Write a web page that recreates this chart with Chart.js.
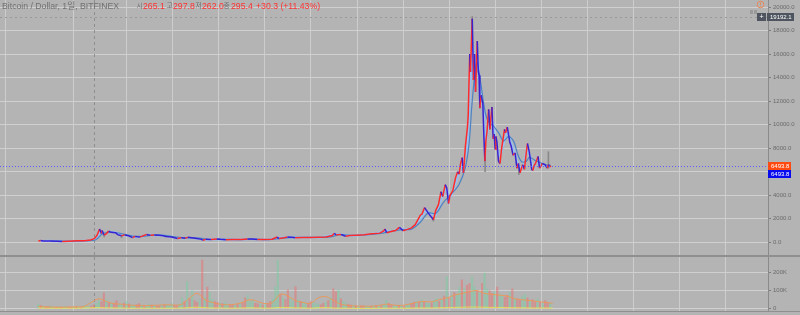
<!DOCTYPE html>
<html><head><meta charset="utf-8">
<script src="https://cdn.jsdelivr.net/npm/chart.js@4.4.0/dist/chart.umd.min.js"></script>
<style>
html,body{margin:0;padding:0;background:#b4b4b4;}
#wrap{position:relative;width:800px;height:315px;overflow:hidden;background:#b4b4b4;font-family:"Liberation Sans","Noto Sans CJK KR",sans-serif;}
#c1{position:absolute;left:0;top:0;}
#c2{position:absolute;left:0;top:257px;}
.sep{position:absolute;left:0;width:800px;background:#8f8f8f;}
#legend span{position:absolute;top:0;font-size:8.7px;line-height:12px;white-space:nowrap;}
#legend span.k{font-size:6.8px;}
</style></head>
<body><div id="wrap">
<canvas id="c1" width="800" height="255"></canvas>
<div class="sep" style="top:255px;height:2px"></div>
<canvas id="c2" width="800" height="54"></canvas>
<div class="sep" style="top:311px;height:1px"></div>
<div id="legend"></div>
</div>
<script>
// ---------- DATA ----------
const legendTitle = 'Bitcoin / Dollar, 1일, BITFINEX';
const ohlcLabels = ['시','고','저','종'];
const ohlcValues = ['265.1','297.8','262.0','295.4'];
const changeText = '+30.3 (+11.43%)';

const viewRange = ['2012-10-31','2021-03-04'];
const gridDates = ['2013-04-07','2014-01-01','2014-06-01','2015-01-01','2015-06-01','2016-01-01','2016-06-01','2017-01-01','2017-06-01','2018-01-01','2018-06-01','2019-01-01','2019-06-01','2020-01-01','2020-06-01','2021-01-01'];
const priceTicks = [0,2000,4000,6000,8000,10000,12000,14000,16000,18000,20000];
const volTicks = [0,100000,200000];
const crosshairDate = '2013-11-07';
const lastPrice = 6493.8;
const highPrice = 19192.1;

const closeSeries = [
['2013-04-01',100],['2013-04-10',160],['2013-04-20',120],['2013-05-15',115],['2013-06-15',100],['2013-07-05',75],['2013-08-01',100],['2013-09-01',130],['2013-10-01',130],['2013-10-25',190],['2013-11-10',330],['2013-11-20',600],['2013-11-30',1130],['2013-12-07',750],['2013-12-10',1000],['2013-12-18',600],['2013-12-25',700],
['2014-01-05',950],['2014-01-15',850],['2014-02-01',820],['2014-02-10',650],['2014-02-25',550],['2014-03-10',630],['2014-03-25',560],['2014-04-10',400],['2014-04-20',500],['2014-05-10',440],['2014-05-25',590],['2014-06-05',660],['2014-06-20',590],['2014-07-05',630],['2014-07-25',590],['2014-08-10',560],['2014-08-20',500],['2014-09-05',480],['2014-09-20',400],['2014-10-05',330],['2014-10-20',380],['2014-11-05',340],['2014-11-15',420],['2014-12-01',380],['2014-12-20',320],
['2015-01-05',270],['2015-01-14',180],['2015-01-25',260],['2015-02-15',240],['2015-03-10',290],['2015-03-25',250],['2015-04-15',225],['2015-05-15',240],['2015-06-15',245],['2015-07-10',290],['2015-07-30',285],['2015-08-18',230],['2015-09-15',230],['2015-10-15',260],['2015-11-04',450],['2015-11-12',320],['2015-12-01',380],['2015-12-15',450],
['2016-01-01',430],['2016-01-15',385],['2016-02-15',400],['2016-03-15',415],['2016-04-15',430],['2016-05-15',455],['2016-06-10',580],['2016-06-17',760],['2016-06-25',650],['2016-07-15',665],['2016-08-02',520],['2016-08-20',580],['2016-09-15',610],['2016-10-15',640],['2016-11-05',710],['2016-11-25',740],['2016-12-15',780],['2016-12-31',960],
['2017-01-05',1130],['2017-01-12',800],['2017-01-25',900],['2017-02-15',1000],['2017-03-03',1270],['2017-03-18',980],['2017-04-01',1080],['2017-04-20',1230],['2017-05-05',1500],['2017-05-25',2300],['2017-06-01',2400],['2017-06-11',2950],['2017-06-25',2500],['2017-07-16',1920],['2017-07-25',2700],['2017-08-05',3200],['2017-08-15',4300],['2017-08-22',3900],['2017-09-01',4900],['2017-09-07',4600],['2017-09-14',3300],['2017-09-20',4000],['2017-10-01',4400],['2017-10-12',5500],['2017-10-20',6000],['2017-10-26',5800],['2017-11-01',6700],['2017-11-07',7200],['2017-11-12',5900],['2017-11-20',8200],['2017-11-28',9800],['2017-12-01',10800],['2017-12-07',16000],['2017-12-10',14500],['2017-12-17',19000],['2017-12-22',13800],['2017-12-26',16000],['2017-12-30',12800],
['2018-01-06',17100],['2018-01-10',14500],['2018-01-13',14200],['2018-01-16',11400],['2018-01-21',12500],['2018-01-28',11800],['2018-02-01',9100],['2018-02-05',6900],['2018-02-09',8600],['2018-02-14',9500],['2018-02-20',11300],['2018-02-25',9600],['2018-03-05',11500],['2018-03-10',8800],['2018-03-14',9200],['2018-03-18',7900],['2018-03-21',9000],['2018-03-25',8500],['2018-03-31',6900],['2018-04-06',6700],['2018-04-12',7900],['2018-04-24',9600],['2018-04-28',9300],['2018-05-05',9800],['2018-05-15',8500],['2018-05-20',8200],['2018-05-28',7400],['2018-06-05',7600],['2018-06-12',6300],['2018-06-18',6700],['2018-06-24',5900],['2018-07-05',6600],['2018-07-12',6200],['2018-07-18',7400],['2018-07-24',8400],['2018-07-31',7700],['2018-08-10',6200],['2018-08-14',6100],['2018-08-19',6500],['2018-08-25',6700],['2018-09-04',7300],['2018-09-10',6300],['2018-09-16',6500],['2018-09-21',6700],['2018-10-01',6600],['2018-10-11',6300],['2018-10-15',6600],['2018-10-20',6400],['2018-10-25',6493.8]
];

const fastMaSeries = [
['2013-04-10',110],['2013-05-15',115],['2013-07-01',90],['2013-08-15',105],['2013-10-01',125],['2013-11-01',200],['2013-11-20',450],['2013-12-05',900],['2013-12-20',750],['2014-01-10',880],['2014-02-05',800],['2014-02-25',620],['2014-03-20',580],['2014-04-15',460],['2014-05-15',470],['2014-06-10',620],['2014-07-10',610],['2014-08-10',570],['2014-09-10',460],['2014-10-10',360],['2014-11-10',360],['2014-12-10',360],
['2015-01-10',260],['2015-01-30',230],['2015-03-01',255],['2015-04-10',240],['2015-06-01',235],['2015-07-20',280],['2015-08-25',240],['2015-10-01',240],['2015-11-08',370],['2015-12-10',420],['2016-01-10',420],['2016-03-01',410],['2016-05-01',445],['2016-06-20',680],['2016-07-20',660],['2016-08-15',560],['2016-10-01',610],['2016-11-15',720],['2016-12-25',880],
['2017-01-10',950],['2017-02-10',980],['2017-03-10',1150],['2017-04-01',1080],['2017-05-01',1350],['2017-05-28',2100],['2017-06-15',2650],['2017-07-10',2400],['2017-07-25',2300],['2017-08-15',3600],['2017-09-05',4500],['2017-09-20',3800],['2017-10-10',4900],['2017-10-25',5800],['2017-11-10',6800],['2017-11-25',7800],['2017-12-05',11000],['2017-12-12',15000],['2017-12-20',16500],['2017-12-30',14500],
['2018-01-08',15500],['2018-01-18',12800],['2018-01-30',11500],['2018-02-08',8500],['2018-02-20',10000],['2018-03-05',10500],['2018-03-20',8600],['2018-04-05',7400],['2018-04-20',8300],['2018-05-05',9300],['2018-05-20',8500],['2018-06-05',7500],['2018-06-20',6500],['2018-07-05',6400],['2018-07-22',7800],['2018-08-05',7200],['2018-08-15',6400],['2018-09-01',6900],['2018-09-15',6600],['2018-10-01',6550],['2018-10-25',6450]
];

const slowMaSeries = [
['2013-05-20',120],['2013-08-01',95],['2013-10-01',120],['2013-11-15',220],['2013-12-10',700],['2014-01-10',850],['2014-02-15',790],['2014-03-20',620],['2014-04-25',500],['2014-06-01',530],['2014-07-01',620],['2014-08-15',590],['2014-10-01',450],['2014-11-15',370],['2015-01-01',360],['2015-02-10',240],['2015-04-01',260],['2015-06-01',235],['2015-08-01',265],['2015-10-01',235],['2015-11-20',340],
['2016-01-10',420],['2016-04-01',415],['2016-06-01',460],['2016-07-10',650],['2016-09-01',590],['2016-11-01',640],['2016-12-20',760],['2017-01-25',920],['2017-03-15',1080],['2017-04-20',1120],['2017-05-25',1700],['2017-06-25',2500],['2017-07-25',2450],['2017-08-25',3400],['2017-09-25',4100],['2017-10-25',4900],['2017-11-20',6400],['2017-12-05',8500],['2017-12-15',11500],['2017-12-28',14500],
['2018-01-05',15300],['2018-01-20',13500],['2018-02-05',11200],['2018-02-20',10200],['2018-03-10',9900],['2018-04-01',9300],['2018-04-20',8600],['2018-05-10',9000],['2018-05-30',8600],['2018-06-15',7500],['2018-07-01',6850],['2018-07-20',6900],['2018-08-01',7250],['2018-08-20',7000],['2018-09-10',6800],['2018-10-01',6600],['2018-10-25',6550]
];

const wickSeries = [
['2013-12-18',450,780],['2014-02-25',380,600],['2017-07-16',1800,2100],['2017-12-17',17500,19192.1],['2018-02-06',6000,7800],['2018-06-20',5750,6500],['2018-10-15',6300,7700]
];

const volStart = '2013-04-01';
const volStepDays = 10;
const volumeK = [
25,18,12,10,9,14,8,7,10,9, 8,12,9,7,10,11,8,9,14,12, 10,15,22,30,45,38,87,50,
35,30,28,45,25,22,30,40,26,20, 18,22,28,20,15,18,24,20,16,14, 15,18,20,22,17,28,19,16,24,60, 40,150,55,100,45,35,50,
270,60,120,90,50,40,35,30,28,35, 25,22,20,18,24,30,35,60,75,40, 45,30,28,25,20,22,30,40,55,120, 270,80,60,50,104,55,40,
122,50,40,35,30,28,40,32,28,25, 22,30,35,45,60,110,95,105,55,40, 30,25,20,18,15,14,16,15,13,12, 12,14,18,20,16,22,
45,30,20,15,14,16,18,15,20,25, 30,35,40,38,50,35,30,28,32,45, 55,40,50,70,178,60,75,90,80,120, 160,110,130,140,178,120,100,
90,140,198,110,100,85,95,120,80,70, 65,75,90,110,60,55,50,70,80,60, 45,50,40,55,35,30,45,35,30
];
const volUpDown = 'grgrrggrgrggrrgrgrgggrrggrrg'+'rgrrggrgrggrrgrggrgrrgrgggrrggrgrgrrg'+'rgrggrrgrggrrgrgrrgggrrgrgrrgggrgrrgg'+'rgrggrrgggrrgrgrrgrggrrgrgrrggrgrgrg'+'grrggrgrggrrgrgrggrggrgrgrgrggrgrrggr'+'grggrrgrggrrgrgrrggrgrrgrgrrg';

const volMaStepDays = 30;
const volMaK = [12,10,9,8,9,10,12,35,55, 40,28,25,20,18,17,18,20,22,20,25,60, 85,50,35,25,22,25,35,50,40,28,35,80,70, 45,35,30,60,67,45,25,18,15,14,14,18, 25,20,18,25,35,40,38,50,60,75,85,95, 100,85,80,75,70,55,50,45,40,35,30];
const volLowK = [4,3,3,3,3,3,4,5,6, 5,4,4,3,3,3,3,3,3,3,4,6, 8,6,4,4,3,3,4,5,4,3,4,7,6, 5,4,3,5,6,4,3,3,2,2,2,3, 3,3,3,3,4,4,4,5,6,7,8,9, 9,8,7,7,6,5,5,4,4,4,3];

// ---------- HELPERS ----------
function dayOf(s){const p=s.split('-').map(Number);return Date.UTC(p[0],p[1]-1,p[2])/86400000;}
const xMin = dayOf(viewRange[0]), xMax = dayOf(viewRange[1]);
const pts = arr => arr.map(r => ({x: dayOf(r[0]), y: r[1]}));
const RED = '#ff2a2a', BLUE = '#3a22cf';

// legend
(function(){
  const L = document.getElementById('legend');
  const gray = '#707070', red = '#ff3030';
  const items = [[legendTitle,2,gray,'']];
  const labX = [136.5,166.5,195.5,223.5], valX = [143,173,202,231];
  ohlcLabels.forEach((l,i)=>{items.push([l,labX[i],gray,'k']);items.push([ohlcValues[i],valX[i],red,'']);});
  items.push([changeText,256,red,'']);
  items.forEach(([t,x,c,k])=>{const s=document.createElement('span');s.textContent=t;s.style.left=x+'px';s.style.color=c;if(k)s.className=k;L.appendChild(s);});
})();

function xScaleOpts(){
  return {type:'linear', min:xMin, max:xMax, offset:false,
    ticks:{display:false}, border:{display:false},
    grid:{color:'#cdcdcd', lineWidth:1, drawTicks:false},
    afterBuildTicks: s => { s.ticks = gridDates.map(d=>({value:dayOf(d)})); },
    afterFit: s => { s.height = 0; s.paddingLeft = 0; s.paddingRight = 0; }
  };
}
function yFit(s){ s.width = 32; s.paddingTop = 0; s.paddingBottom = 0; }
function crosshair(chart){
  const {ctx, chartArea:a, scales:{x}} = chart;
  const px = Math.round(x.getPixelForValue(dayOf(crosshairDate)))+0.5;
  ctx.save(); ctx.strokeStyle='#8e8e8e'; ctx.lineWidth=1; ctx.setLineDash([3,3]);
  ctx.beginPath(); ctx.moveTo(px,a.top); ctx.lineTo(px,a.bottom); ctx.stroke(); ctx.restore();
}
function labelBox(ctx,x,yc,w,h,bg,text){
  ctx.fillStyle=bg; ctx.fillRect(x,Math.round(yc-h/2),w,h);
  ctx.fillStyle='#ffffff'; ctx.font='6px "Liberation Sans"'; ctx.textBaseline='middle'; ctx.textAlign='left';
  ctx.fillText(text,x+3,Math.round(yc-h/2)+h/2+0.5);
}

const pricePlugin = {
  id:'pricePlugin',
  beforeDatasetsDraw(chart){ crosshair(chart); },
  afterDatasetsDraw(chart){
    const {ctx, chartArea:a, scales:{y}} = chart;
    const yl = Math.round(y.getPixelForValue(lastPrice))+0.5;
    const yh = Math.round(y.getPixelForValue(highPrice))+0.5;
    ctx.save();
    ctx.strokeStyle='#5a5aff'; ctx.lineWidth=1; ctx.setLineDash([1,2]);
    ctx.beginPath(); ctx.moveTo(a.left,yl); ctx.lineTo(a.right,yl); ctx.stroke();
    ctx.strokeStyle='#999999'; ctx.setLineDash([2,3]);
    ctx.beginPath(); ctx.moveTo(a.left,yh); ctx.lineTo(a.right,yh); ctx.stroke();
    ctx.restore();
  },
  afterDraw(chart){
    const {ctx, scales:{y}} = chart;
    const yl = y.getPixelForValue(lastPrice), yh = y.getPixelForValue(highPrice);
    ctx.save();
    labelBox(ctx,768,yl,23,8,'#ff4a12',lastPrice.toFixed(1));
    labelBox(ctx,768,yl+8.5,23,8,'#0a0aee',lastPrice.toFixed(1));
    ctx.fillStyle='#4e5560'; ctx.fillRect(757,Math.round(yh-4),9,8);
    ctx.fillStyle='#fff'; ctx.font='7px "Liberation Sans"'; ctx.textAlign='center'; ctx.textBaseline='middle';
    ctx.fillText('+',761.5,Math.round(yh-4)+4);
    labelBox(ctx,767,yh,27,8,'#4e5560',highPrice.toFixed(1));
    ctx.strokeStyle='#e8895a'; ctx.lineWidth=1; ctx.beginPath(); ctx.arc(760.5,4.5,3.3,0,Math.PI*2); ctx.stroke();
    ctx.fillStyle='#e8895a'; ctx.fillRect(760,2.5,1,2.5); ctx.fillRect(760,6,1,1);
    ctx.fillStyle='#9a9a9a'; ctx.fillRect(750,10,3,4); ctx.fillRect(754,10,3,4);
    ctx.restore();
  }
};

new Chart(document.getElementById('c1'), {
  type:'line',
  data:{datasets:[
    {type:'line', data:pts(closeSeries), borderWidth:1.5, pointRadius:0, tension:0, order:0,
      borderColor:RED, segment:{borderColor: c => c.p1.parsed.y >= c.p0.parsed.y ? RED : BLUE}},
    {type:'bar', data:wickSeries.map(r=>({x:dayOf(r[0]), y:[r[1],r[2]]})), backgroundColor:'#8a8a8a', barThickness:1, grouped:false, order:1},
    {type:'line', data:pts(slowMaSeries), borderColor:'#4d83c4', borderWidth:1.2, pointRadius:0, tension:0.3, order:2},
    {type:'line', data:pts(fastMaSeries), borderColor:'rgba(150,192,242,0.95)', borderWidth:2.2, pointRadius:0, tension:0.3, order:3}
  ]},
  options:{
    responsive:false, animation:false, events:[],
    layout:{padding:0},
    plugins:{legend:{display:false}, tooltip:{enabled:false}},
    scales:{
      x: xScaleOpts(),
      y:{type:'linear', position:'right', min:-1079, max:20595,
        afterFit: yFit,
        afterBuildTicks: s => { s.ticks = priceTicks.map(v=>({value:v})); },
        ticks:{callback: v => Number(v).toFixed(1), font:{size:6, family:'Liberation Sans'}, color:'#6b6b6b', padding:2},
        grid:{color:'#d0d0d0', tickColor:'#7d7d7d', tickLength:3},
        border:{color:'#8a8a8a'}
      }
    }
  },
  plugins:[pricePlugin]
});

const volPlugin = { id:'volPlugin', beforeDatasetsDraw(chart){ crosshair(chart); } };
const v0 = dayOf(volStart);
new Chart(document.getElementById('c2'), {
  type:'bar',
  data:{datasets:[
    {type:'line', data:volMaK.map((v,i)=>({x:v0+i*volMaStepDays, y:v*1000})), borderColor:'rgba(240,150,80,0.9)', borderWidth:1, pointRadius:0, tension:0.4, order:0},
    {type:'line', data:volLowK.map((v,i)=>({x:v0+i*volMaStepDays, y:v*1000})), borderColor:'rgba(235,225,80,0.9)', borderWidth:1, pointRadius:0, tension:0.4, order:1},
    {type:'bar', data:volumeK.map((v,i)=>({x:v0+i*volStepDays, y:v*1000})),
      backgroundColor: volumeK.map((v,i)=> (volUpDown[i]||'g')==='g' ? 'rgba(120,205,160,0.5)' : 'rgba(238,110,110,0.5)'),
      barThickness:1.5, grouped:false, order:2}
  ]},
  options:{
    responsive:false, animation:false, events:[],
    layout:{padding:0},
    plugins:{legend:{display:false}, tooltip:{enabled:false}},
    scales:{
      x: xScaleOpts(),
      y:{type:'linear', position:'right', min:-12800, max:287200,
        afterFit: yFit,
        afterBuildTicks: s => { s.ticks = volTicks.map(v=>({value:v})); },
        ticks:{callback: v => v===0 ? '0' : (v/1000)+'K', font:{size:6, family:'Liberation Sans'}, color:'#6b6b6b', padding:2},
        grid:{color:'#d0d0d0', tickColor:'#7d7d7d', tickLength:3},
        border:{color:'#8a8a8a'}
      }
    }
  },
  plugins:[volPlugin]
});
</script>
</body></html>
